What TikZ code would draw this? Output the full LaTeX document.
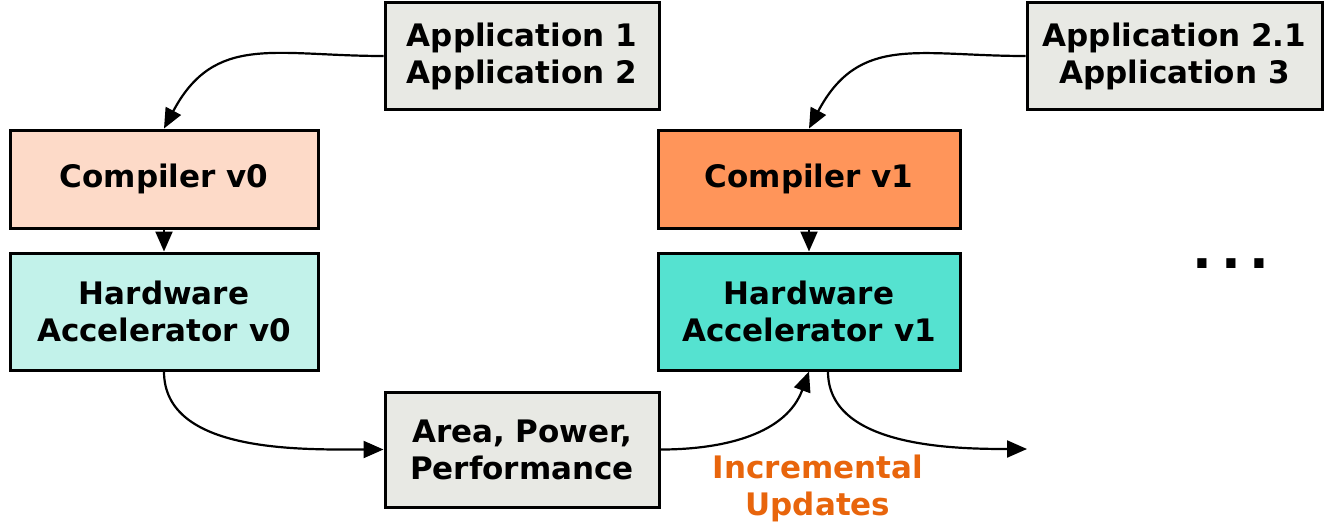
\documentclass[tikz,border=0pt]{standalone}
\usepackage{fontspec}
\setmainfont{DejaVu Sans}
\usetikzlibrary{arrows.meta}

\definecolor{appgray}{HTML}{E8E9E4}
\definecolor{compzero}{HTML}{FDDAC8}
\definecolor{compone}{HTML}{FF955A}
\definecolor{hwzero}{HTML}{C2F2EA}
\definecolor{hwone}{HTML}{55E2D0}
\definecolor{updorange}{HTML}{E8650C}

\begin{document}
\begin{tikzpicture}[
  x=1pt, y=-1pt,
  font=\fontsize{31}{37}\selectfont\bfseries,
  box/.style={
    rectangle, draw=black, line width=3pt, align=center,
    inner sep=0pt
  },
  appbox/.style={box, fill=appgray, minimum width=274pt, minimum height=107pt},
  unitbox/.style={box, minimum width=308pt},
  flow/.style={-{Triangle[length=20pt, width=17pt]}, black, line width=2.2pt},
]
\useasboundingbox (0,0) rectangle (1327,523);

% Left column: version 0
\node[appbox] (apps) at (522, 56) {Application 1\\Application 2};
\node[unitbox, fill=compzero, minimum height=98pt] (comp) at (164, 179) {Compiler v0};
\node[unitbox, fill=hwzero, minimum height=117pt] (hw) at (164, 311.5) {Hardware\\Accelerator v0};

% Feedback
\node[appbox, minimum height=115pt] (ppa) at (522, 449.5) {Area, Power,\\Performance};

% Right column: version 1
\node[appbox, minimum width=295pt] (appsnew) at (1174.5, 56) {Application 2.1\\Application 3};
\node[unitbox, minimum width=302pt, fill=compone, minimum height=98pt] (compnew) at (809, 179) {Compiler v1};
\node[unitbox, minimum width=302pt, fill=hwone, minimum height=117pt] (hwnew) at (809, 311.5) {Hardware\\Accelerator v1};

% Annotations
\node[updorange, align=center] (upd) at (818, 488) {Incremental\\Updates};
\node[font=\fontsize{52}{52}\selectfont\bfseries] (dots) at (1231, 264) {.\hspace{9pt}.\hspace{9pt}.};
\coordinate (next) at (1027, 449);

% Flows
\draw[flow] (apps.west) to[out=180, in=62, looseness=1.2] (comp.north);
\draw[flow] (comp) -- (hw);
\draw[flow] (hw.south) to[out=-90, in=180, looseness=0.9] (ppa.west);
\draw[flow] (ppa.east) to[out=0, in=-110, looseness=1.0] (hwnew.south);
\draw[flow] (appsnew.west) to[out=180, in=62, looseness=1.2] (compnew.north);
\draw[flow] (compnew) -- (hwnew);
\draw[flow] ([xshift=19pt]hwnew.south) to[out=-90, in=180, looseness=0.9] (next);

\end{tikzpicture}
\end{document}
